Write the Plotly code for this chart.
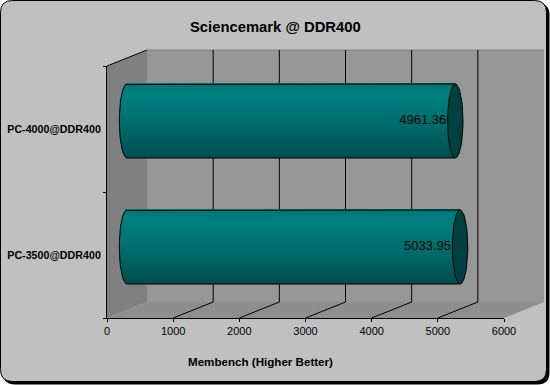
import numpy as np
import plotly.graph_objects as go

title = "Sciencemark @ DDR400"
x_title = "Membench (Higher Better)"
categories = ["PC-3500@DDR400", "PC-4000@DDR400"]
values = [5033.95, 4961.36]
x_ticks = [0, 1000, 2000, 3000, 4000, 5000, 6000]
y_edges = [-0.5, 0.5, 1.5]

W, H = 550, 385
L, R, T, B = 107, 504, 66, 318
DX, DY = 40, 16
px_per_unit = (R - L) / 6000
py_per_cat = (B - T) / 2

def pap_x(p):
    return (p - L) / (R - L)
def pap_y(p):
    return (B - p) / (B - T)

def poly(points, fill, line=None, width=0):
    d = "M" + " L".join(f"{pap_x(a):.5f},{pap_y(b):.5f}" for a, b in points) + " Z"
    return dict(type="path", xref="paper", yref="paper", path=d, fillcolor=fill,
                line=dict(color=line or fill, width=width), layer="below")

shapes = []
def rrect(x0, y0, x1, y1, r):
    c = lambda a, b: f"{pap_x(a):.5f},{pap_y(b):.5f}"
    return (f"M{c(x0 + r, y0)} L{c(x1 - r, y0)} Q{c(x1, y0)} {c(x1, y0 + r)} L{c(x1, y1 - r)} "
            f"Q{c(x1, y1)} {c(x1 - r, y1)} L{c(x0 + r, y1)} Q{c(x0, y1)} {c(x0, y1 - r)} "
            f"L{c(x0, y0 + r)} Q{c(x0, y0)} {c(x0 + r, y0)} Z")
shapes.append(dict(type="path", xref="paper", yref="paper", path=rrect(3, 3, 549.5, 384.5, 12),
                   fillcolor="#000000", line=dict(width=0), layer="below"))
shapes.append(dict(type="path", xref="paper", yref="paper", path=rrect(0.5, 0.5, 546.5, 381.5, 12),
                   fillcolor="#C0C0C0", line=dict(color="#000000", width=1), layer="below"))
shapes.append(poly([(L, T), (L + DX, T - DY), (L + DX, B - DY), (L, B)], "#808080"))
shapes.append(poly([(L + DX, T - DY), (R + DX, T - DY), (R + DX, B - DY), (L + DX, B - DY)], "#969696"))
shapes.append(poly([(L, B), (R, B), (R + DX, B - DY), (L + DX, B - DY)], "#8E8E8E"))
shapes.append(dict(type="line", xref="paper", yref="paper", x0=pap_x(L + DX), y0=pap_y(T - DY),
                   x1=pap_x(R + DX), y1=pap_y(T - DY), line=dict(color="#808080", width=1), layer="below"))
shapes.append(dict(type="line", xref="paper", yref="paper", x0=pap_x(L), y0=pap_y(T),
                   x1=pap_x(L + DX), y1=pap_y(T - DY), line=dict(color="#000000", width=1), layer="below"))
for t in x_ticks[1:-1]:
    xf = pap_x(L + t * px_per_unit)
    xb = pap_x(L + t * px_per_unit + DX)
    shapes.append(dict(type="path", xref="paper", yref="paper",
                       path=f"M{xb:.5f},{pap_y(T - DY):.5f} L{xb:.5f},{pap_y(B - DY):.5f} L{xf:.5f},{pap_y(B):.5f}",
                       line=dict(color="#000000", width=1), layer="below"))

fig = go.Figure()

depth_x = (DX / 2) / px_per_unit
depth_y = (DY / 2) / py_per_cat
bar_h = 74 / py_per_cat
cap_a = 7.7 / px_per_unit
n_bands = 74
stops = [(0.0, (0, 118, 118)), (0.17, (0, 128, 128)), (0.55, (0, 108, 108)), (1.0, (0, 78, 78))]
ys = [i + depth_y for i in range(len(values))]

for k in range(n_bands):
    f0 = k / n_bands
    fm = (k + 0.5) / n_bands
    col = [int(round(np.interp(fm, [s[0] for s in stops], [s[1][c] for s in stops]))) for c in range(3)]
    t = 2 * fm - 1
    bulge = cap_a * np.sqrt(max(0, 1 - t * t))
    fig.add_trace(go.Bar(
        orientation="h",
        y=ys,
        x=[v + bulge for v in values],
        base=depth_x - bulge,
        width=bar_h / n_bands * 1.06,
        offset=bar_h / 2 - (f0 + 1 / n_bands) * bar_h,
        marker=dict(color=f"rgb({col[0]},{col[1]},{col[2]})", line=dict(width=0)),
        cliponaxis=False,
        hoverinfo="skip",
        showlegend=False,
    ))

theta = np.linspace(0, 2 * np.pi, 73)
half = np.linspace(np.pi / 2, 3 * np.pi / 2, 37)
for v, y in zip(values, ys):
    xo = np.concatenate([[v + depth_x], depth_x + cap_a * np.cos(half), [v + depth_x]])
    yo = np.concatenate([[y + bar_h / 2], y + bar_h / 2 * np.sin(half), [y - bar_h / 2]])
    fig.add_trace(go.Scatter(x=xo, y=yo, mode="lines", line=dict(color="#000000", width=1),
                             cliponaxis=False, hoverinfo="skip", showlegend=False))
    fig.add_trace(go.Scatter(x=v + depth_x + cap_a * np.cos(theta), y=y + bar_h / 2 * np.sin(theta),
                             mode="lines", fill="toself", fillcolor="#004040",
                             line=dict(color="#000000", width=1),
                             cliponaxis=False, hoverinfo="skip", showlegend=False))

fig.add_trace(go.Scatter(
    x=[v + depth_x - cap_a - 20 for v in values],
    y=ys,
    mode="text",
    text=[f"{v:.2f}" for v in values],
    textposition="middle left",
    textfont=dict(family="Liberation Sans", size=13, color="#000000"),
    cliponaxis=False,
    hoverinfo="skip",
    showlegend=False,
))

fig.update_layout(
    width=W, height=H,
    margin=dict(l=L, r=W - R, t=T, b=H - B, pad=0),
    paper_bgcolor="#FFFFFF",
    plot_bgcolor="rgba(0,0,0,0)",
    barmode="overlay",
    showlegend=False,
    shapes=shapes,
    font=dict(family="Liberation Sans", size=10, color="#000000"),
    annotations=[
        dict(text=f"<b>{title}</b>", xref="paper", yref="paper", x=pap_x(275), y=pap_y(27),
             showarrow=False, font=dict(size=14.8, family="Liberation Sans"), xanchor="center", yanchor="middle"),
        dict(text=f"<b>{x_title}</b>", xref="paper", yref="paper", x=pap_x(260), y=pap_y(361),
             showarrow=False, font=dict(size=11.6, family="Liberation Sans"), xanchor="center", yanchor="middle"),
    ],
    xaxis=dict(range=[0, 6000], tickvals=x_ticks, ticks="outside", ticklen=3, tickcolor="#000000",
               tickwidth=1, showgrid=False, zeroline=False, showline=True, linecolor="#000000", linewidth=1,
               automargin=False,
               tickfont=dict(size=11, family="Liberation Sans", color="#000000")),
    yaxis=dict(range=[-0.5, 1.5], tickvals=[0, 1], ticktext=[f"<b>{c}</b>" for c in categories],
               ticks="outside", ticklen=3, tickcolor="rgba(0,0,0,0)", automargin=False,
               showgrid=False, zeroline=False, showline=True, linecolor="#000000", linewidth=1,
               tickfont=dict(size=10.7, family="Liberation Sans", color="#000000"),
               minor=dict(tickvals=y_edges, ticks="outside", ticklen=3, tickcolor="#000000", tickwidth=1, showgrid=False)),
)

fig.write_html("out.html", config=dict(displayModeBar=False),
               post_script="document.body.style.margin='0';document.documentElement.style.overflow='hidden';")
